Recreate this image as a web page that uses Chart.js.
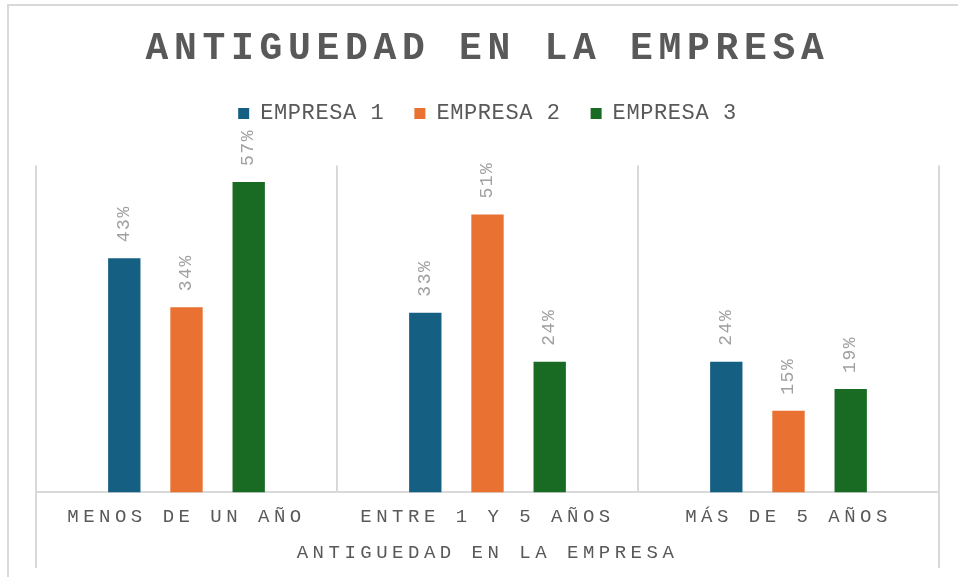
<!DOCTYPE html>
<html>
<head>
  <meta charset="utf-8">
  <title>Antiguedad en la empresa</title>
  <script src="https://cdn.jsdelivr.net/npm/chart.js"></script>
  <style>
    html, body { margin: 0; padding: 0; background: #fff; overflow: hidden; }
    .frame { position: absolute; left: 7px; top: 4px; width: 980px; height: 620px; border: 2px solid #d9d9d9; }
    .chart-container { position: absolute; left: 0; top: 0; width: 958px; height: 577px; }
  </style>
</head>
<body>
  <div class="frame"></div>
  <div class="chart-container">
    <canvas id="antiguedadChart"></canvas>
  </div>

  <script>
    const categories = ['MENOS DE UN AÑO', 'ENTRE 1 Y 5 AÑOS', 'MÁS DE 5 AÑOS'];
    const seriesNames = ['EMPRESA 1', 'EMPRESA 2', 'EMPRESA 3'];
    const empresa1 = [43, 33, 24];
    const empresa2 = [34, 51, 15];
    const empresa3 = [57, 24, 19];
    const seriesColors = ['#156082', '#E97132', '#196B24'];

    const FONT = "'Courier New', 'Liberation Mono', monospace";
    const textGrey = '#595959';
    const lineGrey = '#d9d9d9';

    // the reference text is spaced out (Excel character spacing), keyed on font size
    const spacingBySize = { '38': 5.7, '22': 0.6, '19': 4.5, '18': 1.5 };
    const proto = CanvasRenderingContext2D.prototype;
    const setSpacing = ctx => {
      const m = /(\d+(?:\.\d+)?)px/.exec(ctx.font);
      ctx.letterSpacing = (spacingBySize[m ? m[1] : ''] || 0) + 'px';
    };
    const origFill = proto.fillText, origMeasure = proto.measureText;
    proto.fillText = function (t, x, y, w) { setSpacing(this); return w === undefined ? origFill.call(this, t, x, y) : origFill.call(this, t, x, y, w); };
    proto.measureText = function (t) { setSpacing(this); return origMeasure.call(this, t); };

    // rotated percentage labels above the bars
    const barLabels = {
      id: 'barLabels',
      afterDatasetsDraw(chart) {
        const ctx = chart.ctx;
        ctx.save();
        ctx.font = '18px ' + FONT;
        ctx.fillStyle = '#a0a0a0';
        ctx.textAlign = 'left';
        ctx.textBaseline = 'middle';
        chart.data.datasets.forEach((ds, i) => {
          chart.getDatasetMeta(i).data.forEach((bar, j) => {
            ctx.save();
            ctx.translate(bar.x, bar.y - 16);
            ctx.rotate(-Math.PI / 2);
            ctx.fillText(ds.data[j] + '%', 0, 0);
            ctx.restore();
          });
        });
        ctx.restore();
      }
    };

    // outer category borders run down past the axis
    const outerLines = {
      id: 'outerLines',
      afterDraw(chart) {
        const { ctx, chartArea } = chart;
        ctx.save();
        ctx.strokeStyle = lineGrey;
        ctx.lineWidth = 2;
        [chartArea.left, chartArea.right].forEach(x => {
          ctx.beginPath();
          ctx.moveTo(x, chartArea.bottom);
          ctx.lineTo(x, 568);
          ctx.stroke();
        });
        ctx.restore();
      }
    };

    // extra gap between legend and plot
    const legendGap = {
      id: 'legendGap',
      beforeInit(chart) {
        const fit = chart.legend.fit;
        chart.legend.fit = function () { fit.call(this); this.height += 31; };
      }
    };

    new Chart(document.getElementById('antiguedadChart'), {
      type: 'bar',
      data: {
        labels: categories,
        datasets: [empresa1, empresa2, empresa3].map((values, i) => ({
          label: seriesNames[i],
          data: values,
          backgroundColor: seriesColors[i],
          borderWidth: 0,
          categoryPercentage: 0.62,
          barPercentage: 0.52
        }))
      },
      options: {
        responsive: true,
        maintainAspectRatio: false,
        animation: false,
        layout: { padding: { left: 36, right: 19, top: 0, bottom: 13 } },
        scales: {
          x: {
            grid: { color: lineGrey, lineWidth: 2, drawTicks: false, offset: true },
            border: { color: lineGrey, width: 2 },
            ticks: { color: textGrey, font: { family: FONT, size: 19 }, padding: 13, maxRotation: 0, autoSkip: false },
            title: {
              display: true,
              text: 'ANTIGUEDAD EN LA EMPRESA',
              color: textGrey,
              font: { family: FONT, size: 19 },
              padding: { top: 0, bottom: 0 }
            }
          },
          y: { display: false, min: 0, max: 60 }
        },
        plugins: {
          title: {
            display: true,
            text: 'ANTIGUEDAD EN LA EMPRESA',
            color: textGrey,
            font: { family: FONT, size: 38, weight: 'bold' },
            padding: { top: 27, bottom: 0 }
          },
          legend: {
            position: 'top',
            labels: { color: textGrey, font: { family: FONT, size: 22 }, boxWidth: 11, boxHeight: 11, padding: 30 }
          },
          tooltip: { enabled: false }
        }
      },
      plugins: [barLabels, outerLines, legendGap]
    });
  </script>
</body>
</html>
